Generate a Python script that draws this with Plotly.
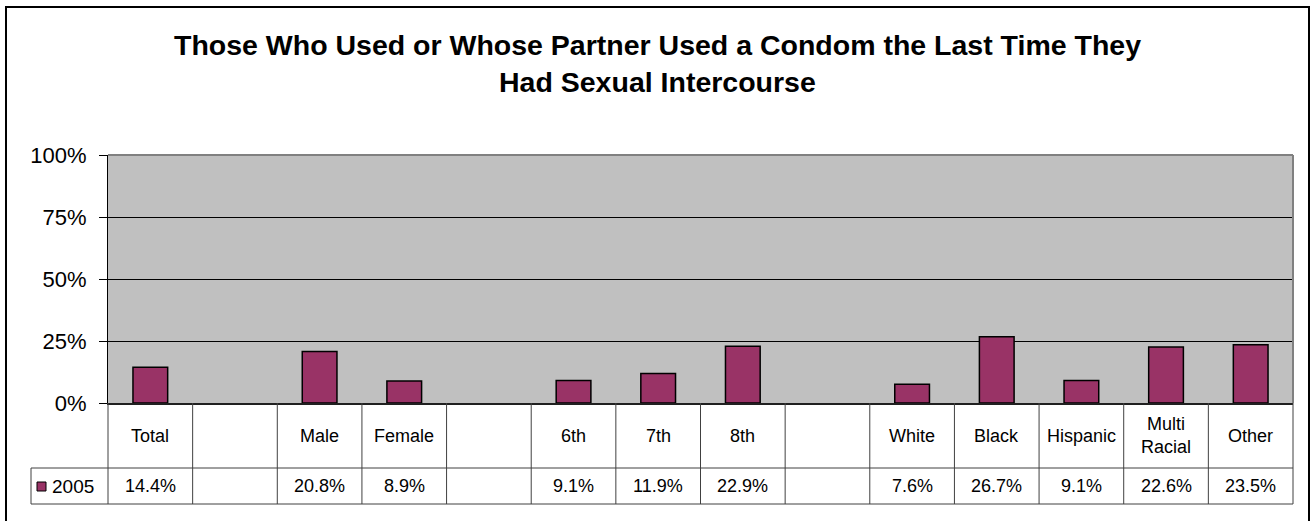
import plotly.graph_objects as go

# ---- data ----
categories = ["Total", "", "Male", "Female", "", "6th", "7th", "8th", "", "White", "Black", "Hispanic", "Multi<br>Racial", "Other"]
values_2005 = [0.144, None, 0.208, 0.089, None, 0.091, 0.119, 0.229, None, 0.076, 0.267, 0.091, 0.226, 0.235]
value_labels = ["14.4%", "", "20.8%", "8.9%", "", "9.1%", "11.9%", "22.9%", "", "7.6%", "26.7%", "9.1%", "22.6%", "23.5%"]
series_name = "2005"
title_lines = ["Those Who Used or Whose Partner Used a Condom the Last Time They",
               "Had Sexual Intercourse"]
y_ticks = [0, 0.25, 0.5, 0.75, 1.0]
y_tick_text = ["0%", "25%", "50%", "75%", "100%"]

# ---- layout geometry (pixels) ----
W, H = 1314, 521
L, R, T, B = 108, 1293, 155, 403
n = len(categories)
FONT = "Arial, Liberation Sans, sans-serif"
BAR_COLOR = "#993366"


def px_x(p):
    return (p - L) / (R - L)


def px_y(p):
    return (B - p) / (B - T)


x_idx = list(range(n))

fig = go.Figure()
fig.add_trace(go.Bar(
    x=x_idx, y=values_2005, width=0.41,
    marker=dict(color=BAR_COLOR, line=dict(color="black", width=1.5)),
    name=series_name, showlegend=False, hoverinfo="skip",
))

shapes = []
annotations = []

# table geometry
row1_bottom = 468
row2_bottom = 504
legend_left = 31
line_col = "#404040"


def col_edge(i):
    return i / n


# vertical cell lines
for i in range(n + 1):
    shapes.append(dict(type="line", xref="paper", yref="paper",
                       x0=col_edge(i), x1=col_edge(i), y0=px_y(B), y1=px_y(row2_bottom),
                       line=dict(color=line_col, width=1)))
# horizontal lines
for yy in (row1_bottom, row2_bottom):
    shapes.append(dict(type="line", xref="paper", yref="paper",
                       x0=px_x(legend_left), x1=1, y0=px_y(yy), y1=px_y(yy),
                       line=dict(color=line_col, width=1)))
shapes.append(dict(type="line", xref="paper", yref="paper",
                   x0=px_x(legend_left), x1=px_x(legend_left), y0=px_y(row1_bottom), y1=px_y(row2_bottom),
                   line=dict(color=line_col, width=1)))

# plot area top/right border (grey)
shapes.append(dict(type="line", xref="paper", yref="paper", x0=0, x1=1, y0=1, y1=1,
                   line=dict(color="#808080", width=2)))
shapes.append(dict(type="line", xref="paper", yref="paper", x0=1, x1=1, y0=0, y1=1,
                   line=dict(color="#808080", width=2)))

# outer chart border
shapes.append(dict(type="rect", xref="paper", yref="paper",
                   x0=px_x(6), x1=px_x(1309), y0=px_y(530), y1=px_y(7),
                   line=dict(color="black", width=2), fillcolor="rgba(0,0,0,0)", layer="below"))

# legend key square
shapes.append(dict(type="rect", xref="paper", yref="paper",
                   x0=px_x(37), x1=px_x(46), y0=px_y(491), y1=px_y(482),
                   line=dict(color="black", width=1), fillcolor=BAR_COLOR))

# table texts
for i, (c, v) in enumerate(zip(categories, value_labels)):
    if c:
        annotations.append(dict(x=i, y=px_y((B + row1_bottom) / 2), xref="x", yref="paper",
                                text=c, showarrow=False, xanchor="center", yanchor="middle",
                                font=dict(family=FONT, size=18, color="black")))
    if v:
        annotations.append(dict(x=i, y=px_y((row1_bottom + row2_bottom) / 2), xref="x", yref="paper",
                                text=v, showarrow=False, xanchor="center", yanchor="middle",
                                font=dict(family=FONT, size=18, color="black")))
annotations.append(dict(x=px_x(50), y=px_y((row1_bottom + row2_bottom) / 2), xref="paper", yref="paper",
                        text=series_name, showarrow=False, xanchor="left", yanchor="middle",
                        font=dict(family=FONT, size=19, color="black")))

# title lines
for line, ypx in zip(title_lines, [45, 82]):
    annotations.append(dict(x=px_x(657), y=px_y(ypx), xref="paper", yref="paper", text="<b>%s</b>" % line,
                            showarrow=False, xanchor="center", yanchor="middle",
                            font=dict(family=FONT, size=28.5, color="black")))

fig.update_layout(
    width=W, height=H,
    margin=dict(l=L, r=W - R, t=T, b=H - B, pad=0),
    paper_bgcolor="white", plot_bgcolor="#C0C0C0",
    showlegend=False,
    shapes=shapes, annotations=annotations,
    xaxis=dict(range=[-0.5, n - 0.5], showticklabels=False, ticks="", showgrid=False,
               zeroline=False, showline=True, linecolor="#202020", linewidth=2, fixedrange=True),
    yaxis=dict(range=[0, 1], tickvals=y_ticks, ticktext=y_tick_text, ticks="outside", ticklen=8,
               tickcolor="black", tickfont=dict(family=FONT, size=22, color="black"),
               ticklabelstandoff=8,
               showgrid=True, gridcolor="black", gridwidth=1, zeroline=False,
               showline=True, linecolor="black", linewidth=1, fixedrange=True),
)

fig.write_html("out.html", config={"displayModeBar": False, "staticPlot": True},
               post_script="document.body.style.margin='0';document.body.style.overflow='hidden';")
